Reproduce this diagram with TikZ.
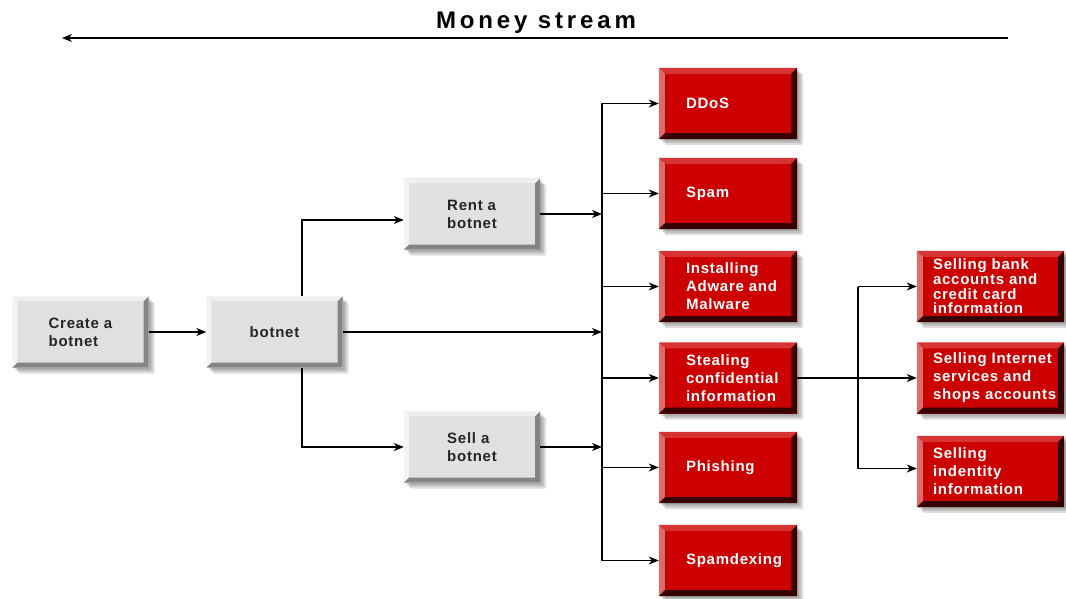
\documentclass[tikz,border=0pt]{standalone}
\usepackage{fontspec}
\setmainfont{Liberation Sans}
\usetikzlibrary{arrows.meta,calc,backgrounds}
\definecolor{gfill}{HTML}{E0E0E0}
\definecolor{gtop}{HTML}{EEEEEE}
\definecolor{gleft}{HTML}{F4F4F4}
\definecolor{gdark}{HTML}{858585}
\definecolor{rfill}{HTML}{CC0000}
\definecolor{rtop}{HTML}{D63333}
\definecolor{rleft}{HTML}{E06A6A}
\definecolor{rdark}{HTML}{380000}
\newcommand{\btxt}[3]{\parbox{#1}{\raggedright\leftskip=#2\relax #3}}
\newcommand{\bev}[5]{%
  \fill[#2] (#1.north west) -- (#1.north east) -- ($(#1.north east)+(-#5,#5)$) -- ($(#1.north west)+(#5,#5)$) -- cycle;
  \fill[#3] (#1.north west) -- ($(#1.north west)+(#5,#5)$) -- ($(#1.south west)+(#5,-#5)$) -- (#1.south west) -- cycle;
  \fill[#4] (#1.north east) -- (#1.south east) -- (#1.south west) -- ($(#1.south west)+(#5,-#5)$) -- ($(#1.south east)+(-#5,-#5)$) -- ($(#1.north east)+(-#5,#5)$) -- cycle;
  \begin{scope}[on background layer]
    \foreach \o in {2,4,6}{
      \fill[black,opacity=0.13,rounded corners=2pt] ($(#1.north west)+(\o,\o)$) rectangle ($(#1.south east)+(\o,\o)$);
    }
  \end{scope}}
\tikzset{
  box/.style={minimum width=136pt, minimum height=71pt, inner sep=0pt,
    font=\bfseries\fontsize{15}{18}\selectfont\addfontfeature{LetterSpace=5}},
  graybox/.style={box, fill=gfill, text=black!85, align=left},
  redbox/.style={box, fill=rfill, text=white, minimum width=138pt},
  sellbox/.style={box, fill=rfill, text=white, minimum width=147pt},
  conn/.style={draw=black, line width=1.2pt, -{Stealth[length=10pt,width=8pt,inset=3pt]}},
  plain/.style={draw=black, line width=1.2pt},
  titletext/.style={font=\bfseries\fontsize{24}{26}\selectfont\addfontfeature{LetterSpace=16}}
}
\begin{document}
\begin{tikzpicture}[x=1pt,y=-1pt]
\useasboundingbox (0,0) rectangle (1066,599);
% title
\node[titletext] (title) at (536,23) {Money stream};
\coordinate (ms1) at (1008,38);
\coordinate (ms2) at (62,38);
\draw[conn] (ms1) -- (ms2);
% gray boxes
\node[graybox] (create) at (80.5,332) {Create a\\botnet};
\node[graybox] (botnet) at (274.5,332) {botnet};
\node[graybox] (rent) at (472,214) {Rent a\\botnet};
\node[graybox] (sell) at (472,447) {Sell a\\botnet};
% red boxes
\node[redbox] (ddos) at (728,103.5) {\btxt{138pt}{27pt}{DDoS}};
\node[redbox] (spam) at (728,193.5) {\btxt{138pt}{27pt}{Spam}};
\node[redbox] (adware) at (728,286.5) {\btxt{138pt}{27pt}{Installing\\Adware and\\Malware}};
\node[redbox] (steal) at (728,378) {\btxt{138pt}{27pt}{Stealing\\confidential\\information}};
\node[redbox] (phish) at (728,467.5) {\btxt{138pt}{27pt}{Phishing}};
\node[redbox] (spamdex) at (728,560.5) {\btxt{138pt}{27pt}{Spamdexing}};
% right boxes
\node[sellbox] (bank) at (990.5,286.5) {\fontsize{15}{14.6}\selectfont\btxt{147pt}{16pt}{Selling bank\\accounts and\\credit card\\information}};
\node[sellbox] (shops) at (990.5,378) {\btxt{147pt}{16pt}{Selling Internet\\services and\\shops accounts}};
\node[sellbox] (ident) at (990.5,471.5) {\btxt{147pt}{16pt}{Selling\\indentity\\information}};
% bevels and shadows
\foreach \n in {create,botnet,rent,sell}{\bev{\n}{gtop}{gleft}{gdark}{5}}
\foreach \n in {ddos,spam,adware,steal,phish,spamdex,bank,shops,ident}{\bev{\n}{rtop}{rleft}{rdark}{6}}
% connectors
\coordinate (bt) at (302,0);
\coordinate (tk) at (602,0);
\coordinate (tk2) at (858,0);
\draw[conn] (create.east) -- (botnet.west);
\draw[conn] (bt |- botnet.north) |- ($(rent.west)+(0,6)$);
\draw[conn] (bt |- botnet.south) |- (sell.west);
\draw[conn] (rent.east) -- (tk |- rent.east);
\draw[conn] (botnet.east) -- (tk |- botnet.east);
\draw[conn] (sell.east) -- (tk |- sell.east);
\draw[plain] (tk |- ddos.west) -- (tk |- spamdex.west);
\foreach \n in {ddos,spam,adware,steal,phish,spamdex}{\draw[conn] (tk |- \n.west) -- (\n.west);}
\draw[plain] (steal.east) -- (tk2 |- steal.east);
\draw[plain] (tk2 |- bank.west) -- ($(tk2 |- ident.west)+(0,-3)$);
\draw[conn] (tk2 |- bank.west) -- (bank.west);
\draw[conn] (tk2 |- shops.west) -- (shops.west);
\draw[conn] ($(tk2 |- ident.west)+(0,-3)$) -- ($(ident.west)+(0,-3)$);
\end{tikzpicture}
\end{document}
